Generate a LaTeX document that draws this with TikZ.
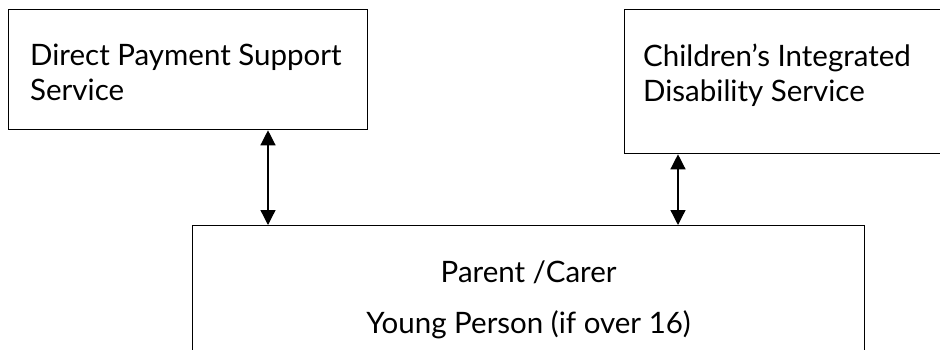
\documentclass[tikz,border=0pt]{standalone}
\usepackage{fontspec}
\setmainfont{Lato}
\usetikzlibrary{positioning,calc,arrows.meta}

\begin{document}
\begin{tikzpicture}[
    x=1pt, y=-1pt,
    box/.style={draw=black, line width=1.3pt, inner sep=0pt, anchor=north west},
    lbl/.style={font=\fontsize{29.5}{35}\selectfont, inner sep=0pt, align=left},
    link/.style={{Triangle[width=15pt,length=15pt]}-{Triangle[width=15pt,length=15pt]}, line width=1.3pt},
]
\clip (0,0) rectangle (940,350);
\node[box, minimum width=359pt, minimum height=120pt] (dps) at (8,9) {};
\node[box, minimum width=340pt, minimum height=144pt] (cids) at (624,9) {};
\node[box, minimum width=672pt, minimum height=160pt] (par) at (192,225) {};
\node[lbl, anchor=north west] (dpsT) at ([xshift=22pt,yshift=-35pt]dps.north west) {Direct Payment Support\\Service};
\node[lbl, anchor=north west] (cidsT) at ([xshift=19pt,yshift=-35pt]cids.north west) {Children’s Integrated\\Disability Service};
\node[lbl, align=center, anchor=north] (parT) at ([yshift=-36pt]par.north) {Parent /Carer\\[16pt]Young Person (if over 16)};
\draw[link] ([xshift=260pt]dps.south west) -- ([xshift=260pt]dps.south west |- par.north);
\draw[link] ([xshift=54pt]cids.south west) -- ([xshift=54pt]cids.south west |- par.north);
\end{tikzpicture}
\end{document}
